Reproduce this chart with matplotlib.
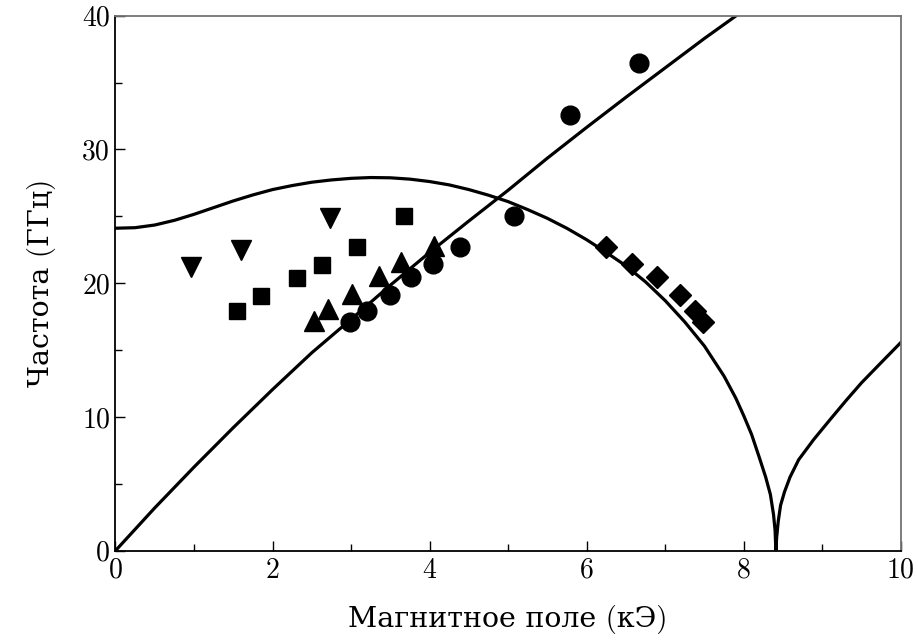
import matplotlib
matplotlib.use("Agg")
import matplotlib.pyplot as plt
from matplotlib.ticker import MultipleLocator

plt.rcParams['font.family'] = ['cmr10', 'DejaVu Serif']
plt.rcParams['axes.formatter.use_mathtext'] = False

# experimental points (field kOe, frequency GHz)
circ_x = [2.99, 3.20, 3.49, 3.76, 4.04, 4.39, 5.08, 5.79, 6.67]
circ_y = [17.1, 17.9, 19.1, 20.45, 21.4, 22.7, 25.0, 32.6, 36.5]

tri_x = [2.53, 2.70, 3.01, 3.35, 3.64, 4.06]
tri_y = [17.2, 18.05, 19.2, 20.55, 21.55, 22.8]

sq_x = [1.55, 1.85, 2.31, 2.63, 3.08, 3.67]
sq_y = [17.9, 19.07, 20.42, 21.37, 22.7, 25.03]

tdown_x = [0.96, 1.60, 2.73]
tdown_y = [21.2, 22.5, 24.85]

dia_x = [6.25, 6.58, 6.89, 7.19, 7.38, 7.48]
dia_y = [22.7, 21.42, 20.45, 19.1, 17.9, 17.1]

# theory curves
line1_x = [0.0, 0.5, 1.0, 1.5, 2.0, 2.5, 3.0, 3.5, 4.0, 4.5, 5.0, 5.5, 6.0,
           6.5, 7.0, 7.5, 8.0]
line1_y = [0.0, 3.2, 6.25, 9.2, 12.05, 14.8, 17.3, 19.85, 22.3, 24.65, 26.95,
           29.35, 31.65, 33.9, 36.1, 38.3, 40.4]

line2_x = [0.0, 0.25, 0.5, 0.75, 1.0, 1.25, 1.5, 1.75, 2.0, 2.25, 2.5, 2.75,
           3.0, 3.25, 3.5, 3.75, 4.0, 4.25, 4.5, 4.75, 5.0, 5.25, 5.5, 5.75,
           6.0, 6.25, 6.5, 6.75, 7.0, 7.25, 7.5, 7.75, 7.9, 8.0, 8.1, 8.2,
           8.28, 8.34, 8.38, 8.40, 8.41, 8.42, 8.44, 8.47, 8.52, 8.59, 8.7,
           8.89, 9.1, 9.31, 9.5, 9.74, 10.0]
line2_y = [24.11, 24.15, 24.35, 24.7, 25.15, 25.65, 26.15, 26.6, 27.0, 27.3,
           27.55, 27.72, 27.84, 27.9, 27.88, 27.78, 27.6, 27.35, 27.0, 26.58,
           26.1, 25.5, 24.85, 24.1, 23.25, 22.3, 21.3, 20.1, 18.7, 17.1, 15.3,
           13.05, 11.4, 10.1, 8.7, 6.95, 5.5, 4.2, 2.7, 1.5, 0.0, 1.0, 2.2,
           3.4, 4.4, 5.5, 6.8, 8.3, 9.8, 11.27, 12.55, 14.0, 15.56]

fig = plt.figure(figsize=(9.18, 6.41), dpi=100)
ax = fig.add_axes([0.1258, 0.1409, 0.8554, 0.8346])

ax.plot(line1_x, line1_y, color='black', lw=2.3, solid_capstyle='butt')
ax.plot(line2_x, line2_y, color='black', lw=2.3, solid_joinstyle='miter')

ax.plot(circ_x, circ_y, 'o', color='black', ms=13.5, ls='none')
ax.plot(tri_x, tri_y, '^', color='black', ms=15, ls='none')
ax.plot(sq_x, sq_y, 's', color='black', ms=11.5, ls='none')
ax.plot(tdown_x, tdown_y, 'v', color='black', ms=15, ls='none')
ax.plot(dia_x, dia_y, 'D', color='black', ms=11, ls='none')

ax.set_xlim(0, 10)
ax.set_ylim(0, 40)
ax.xaxis.set_major_locator(MultipleLocator(2))
ax.xaxis.set_minor_locator(MultipleLocator(1))
ax.yaxis.set_major_locator(MultipleLocator(10))
ax.yaxis.set_minor_locator(MultipleLocator(5))
ax.tick_params(which='both', direction='in', top=False, right=False,
               labelsize=20, width=1.0)
ax.tick_params(which='major', length=7.5)
ax.tick_params(which='minor', length=5)
ax.tick_params(axis='x', pad=5)
ax.tick_params(axis='y', pad=4)

for s in ['left', 'bottom']:
    ax.spines[s].set_linewidth(1.3)
    ax.spines[s].set_color('black')
for s in ['top', 'right']:
    ax.spines[s].set_linewidth(1.3)
    ax.spines[s].set_color('0.45')

ax.set_xlabel('Магнитное поле (кЭ)', fontsize=20.5, labelpad=15)
ax.set_ylabel('Частота (ГГц)', fontsize=20.5, labelpad=19)

fig.savefig('out.png', dpi=100)
